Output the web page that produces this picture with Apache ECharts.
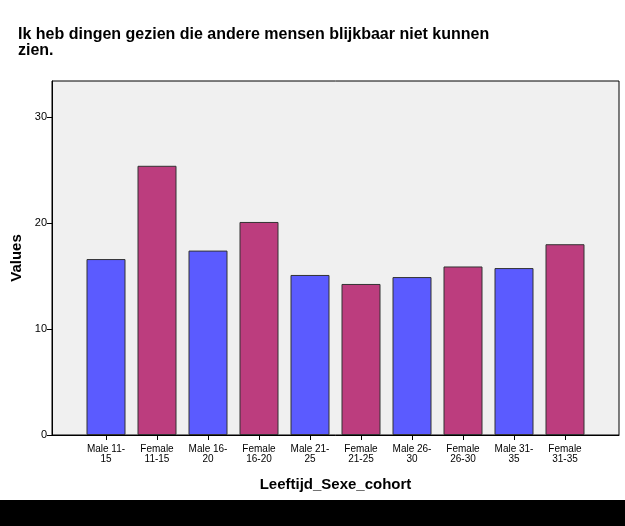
<!DOCTYPE html>
<html><head><meta charset="utf-8">
<script src="https://cdn.jsdelivr.net/npm/echarts@6/dist/echarts.min.js"></script>
<style>html,body{margin:0;padding:0;background:#fff}#c{width:625px;height:526px}</style>
</head><body><div id="c"></div>
<script>
const categories = ['Male 11-\n15','Female\n11-15','Male 16-\n20','Female\n16-20','Male 21-\n25','Female\n21-25','Male 26-\n30','Female\n26-30','Male 31-\n35','Female\n31-35'];
const values = [16.6, 25.4, 17.4, 20.1, 15.1, 14.25, 14.9, 15.9, 15.75, 18.0];
const groups = ['Male','Female','Male','Female','Male','Female','Male','Female','Male','Female'];
const yTicks = [0, 10, 20, 30];
const colors = {Male:'#5b5bff', Female:'#bc3d7e'};

const chart = echarts.init(document.getElementById('c'), null, {renderer:'canvas'});
const FONT = 'Liberation Sans, Arial, sans-serif';
const gTop = 81, gH = 354;
chart.setOption({
  animation:false,
  backgroundColor:'#ffffff',
  title:{text:'Ik heb dingen gezien die andere mensen blijkbaar niet kunnen\nzien.', left:18, top:27, padding:0,
    textStyle:{fontFamily:FONT, fontWeight:'bold', fontSize:16, color:'#000', lineHeight:16}},
  graphic:[{type:'rect', shape:{x:0,y:500,width:625,height:26}, style:{fill:'#000'}, silent:true}],
  grid:[
    {left:52, top:gTop, width:567, height:gH, show:true, backgroundColor:'#f0f0f0', borderColor:'#000', borderWidth:1},
    {left:80.5, top:gTop, width:510, height:gH}
  ],
  xAxis:[
    {gridIndex:0, type:'category', data:['x'], axisLine:{show:true, lineStyle:{color:'#000'}}, axisTick:{show:false}, axisLabel:{show:false},
      name:'Leeftijd_Sexe_cohort', nameLocation:'middle', nameGap:42,
      nameTextStyle:{fontFamily:FONT, fontWeight:'bold', fontSize:15, color:'#000'}},
    {gridIndex:1, type:'category', data:categories, axisLine:{show:false},
      axisTick:{show:true, alignWithLabel:true, length:5, lineStyle:{color:'#000'}},
      axisLabel:{interval:0, fontFamily:FONT, fontSize:10, color:'#000', lineHeight:10, margin:9}}
  ],
  yAxis:[
    {gridIndex:0, type:'value', min:0, max:33.4, interval:10, splitLine:{show:false},
      axisLine:{show:true, lineStyle:{color:'#000'}}, axisTick:{show:true, length:5, lineStyle:{color:'#000'}},
      axisLabel:{fontFamily:FONT, fontSize:11, color:'#000', margin:5, showMaxLabel:false},
      name:'Values', nameLocation:'middle', nameGap:28,
      nameTextStyle:{fontFamily:FONT, fontWeight:'bold', fontSize:15, color:'#000'}},
    {gridIndex:1, type:'value', min:0, max:33.4, show:false}
  ],
  series:[{
    type:'bar', xAxisIndex:1, yAxisIndex:1, barWidth:39,
    data: values.map((v,i)=>({value:v, itemStyle:{color:colors[groups[i]]}})),
    itemStyle:{borderColor:'#333', borderWidth:1}
  }]
});
</script></body></html>
